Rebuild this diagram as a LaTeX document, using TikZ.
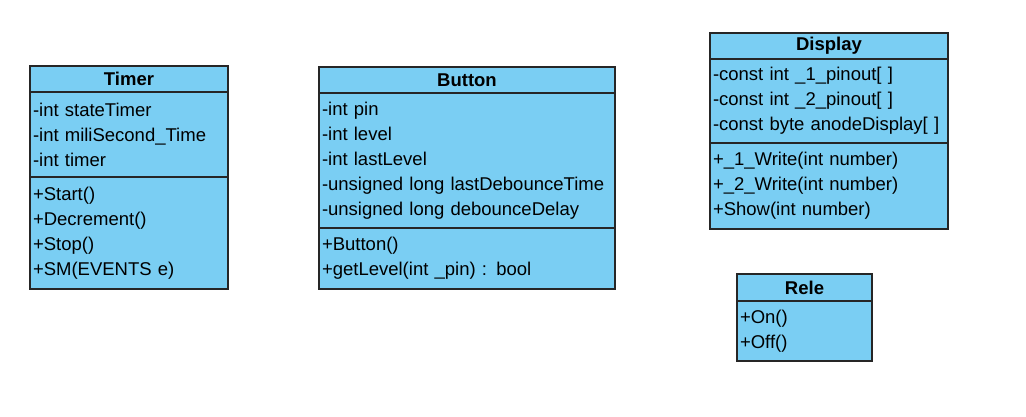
\documentclass[tikz,border=0pt]{standalone}
\usepackage{fontspec}
\setmainfont{Liberation Sans}
\usetikzlibrary{positioning}
\definecolor{classblue}{RGB}{122,206,243}
\tikzset{
    classhead/.style={draw=black!85, line width=1.5pt, fill=classblue, minimum height=26pt, inner sep=0pt, outer sep=0pt, font=\fontsize{18.5}{25}\selectfont\bfseries},
    classpart/.style={draw=black!85, line width=1.5pt, fill=classblue, inner xsep=3pt, inner ysep=0pt, outer sep=0pt, align=left, font=\fontsize{18.5}{25}\selectfont}
}

\begin{document}
\begin{tikzpicture}[x=1pt, y=-1pt]
            \useasboundingbox (0,0) rectangle (1026,416);

            % Timer
            \node[classhead, minimum width=198pt] (timerhead) at (129,79) {Timer};
            \node[classpart, text width=192pt, minimum height=85pt, below=0pt of timerhead] (timerattr) {-int stateTimer\\-int miliSecond\_Time\\-int timer};
            \node[classpart, text width=192pt, minimum height=112pt, below=0pt of timerattr] (timerops) {+Start()\\+Decrement()\\+Stop()\\+SM(EVENTS e)};

            % Button
            \node[classhead, minimum width=296pt] (buttonhead) at (467,80) {Button};
            \node[classpart, text width=290pt, minimum height=135pt, below=0pt of buttonhead] (buttonattr) {-int pin\\-int level\\-int lastLevel\\-unsigned long lastDebounceTime\\-unsigned long debounceDelay};
            \node[classpart, text width=290pt, minimum height=61pt, below=0pt of buttonattr] (buttonops) {+Button()\\+getLevel(int \_pin) : bool};

            % Display
            \node[classhead, minimum width=238pt] (displayhead) at (829,46) {Display};
            \node[classpart, text width=232pt, minimum height=84pt, below=0pt of displayhead] (displayattr) {-const int \_1\_pinout[ ]\\-const int \_2\_pinout[ ]\\-const byte anodeDisplay[ ]};
            \node[classpart, text width=232pt, minimum height=86pt, below=0pt of displayattr] (displayops) {+\_1\_Write(int number)\\+\_2\_Write(int number)\\+Show(int number)};

            % Rele
            \node[classhead, minimum width=135pt, minimum height=27pt] (relehead) at (804.5,287.5) {Rele};
            \node[classpart, text width=129pt, minimum height=60pt, below=0pt of relehead] (releops) {+On()\\+Off()};

        \end{tikzpicture}
\end{document}
